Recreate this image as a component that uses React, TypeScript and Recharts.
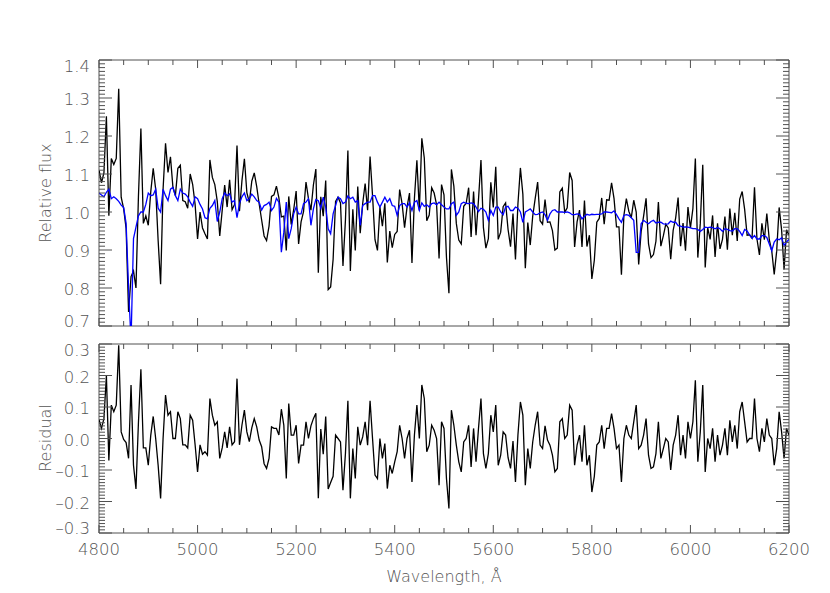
import React from 'react';
import { LineChart, Line, XAxis, YAxis, ReferenceArea } from 'recharts';

// Spectrum sampled on a regular wavelength grid (Å)
const WAVE_START = 4800;
const WAVE_STEP = 5;

// Model spectrum (blue), one value per grid point, 4800..6200 Å
const MODEL = [
  1.05, 1.045, 1.04, 1.052, 1.06, 1.035, 1.04, 1.035, 1.028, 1.018,
  1.012, 0.97, 0.80, 0.66, 0.93, 0.96, 0.99, 1.0, 1.0, 1.02,
  1.05, 1.043, 1.045, 1.06, 1.01, 1.0, 1.06, 1.043, 1.03, 1.06,
  1.065, 1.043, 1.03, 1.06, 1.05, 1.047, 1.04, 1.026, 1.015, 1.04,
  1.035, 1.02, 1.008, 0.985, 0.982, 1.01, 1.017, 1.03, 0.975, 1.0,
  1.035, 1.05, 1.043, 1.048, 1.026, 1.03, 0.985, 1.022, 1.04, 1.05,
  1.03, 1.035, 1.047, 1.04, 1.03, 1.026, 1.005, 1.017, 1.02, 1.026,
  1.004, 1.013, 1.036, 1.026, 0.894, 0.947, 1.026, 0.93, 0.956, 0.995,
  1.013, 0.995, 0.995, 1.022, 1.026, 1.035, 0.965, 1.008, 1.033, 1.03,
  1.01, 1.039, 1.013, 0.956, 0.943, 0.995, 1.017, 1.039, 1.035, 1.022,
  1.026, 1.042, 1.035, 1.039, 1.026, 1.03, 0.965, 1.017, 1.022, 1.026,
  1.026, 1.043, 1.043, 1.026, 1.013, 1.026, 1.039, 1.026, 1.035, 1.017,
  1.015, 0.991, 1.017, 1.022, 1.022, 1.013, 1.024, 1.004, 1.026, 1.03,
  1.004, 1.024, 1.015, 1.019, 1.013, 1.022, 1.024, 1.019, 1.026, 1.019,
  1.013, 1.008, 1.008, 1.022, 1.026, 0.991, 1.0, 1.022, 1.026, 1.023,
  1.022, 1.024, 1.022, 1.013, 1.001, 1.01, 1.007, 1.0, 0.978, 1.004,
  0.991, 1.013, 1.013, 1.0, 0.993, 1.013, 1.015, 1.004, 1.004, 1.013,
  1.01, 1.0, 0.973, 1.0, 1.004, 1.008, 1.0, 0.993, 0.994, 0.998,
  1.0, 0.993, 0.978, 0.995, 1.004, 1.006, 1.0, 1.0, 1.0, 0.999,
  1.0, 0.998, 0.993, 0.993, 0.995, 0.994, 0.982, 0.988, 0.994, 0.992,
  0.994, 0.993, 0.994, 0.994, 0.995, 1.0, 1.0, 0.999, 0.998, 1.003,
  0.993, 0.982, 0.973, 0.991, 0.993, 0.991, 0.985, 0.978, 0.894, 0.894,
  0.969, 0.978, 0.973, 0.969, 0.975, 0.978, 0.971, 0.973, 0.973, 0.969,
  0.968, 0.969, 0.976, 0.973, 0.973, 0.964, 0.963, 0.96, 0.961, 0.96,
  0.958, 0.956, 0.956, 0.954, 0.949, 0.954, 0.96, 0.959, 0.96, 0.959,
  0.956, 0.959, 0.956, 0.949, 0.956, 0.954, 0.951, 0.95, 0.956, 0.956,
  0.949, 0.938, 0.954, 0.95, 0.94, 0.931, 0.938, 0.929, 0.929, 0.938,
  0.938, 0.933, 0.916, 0.898, 0.921, 0.929, 0.927, 0.932, 0.912, 0.921,
  0.928,
];

const RESIDUAL = [
  0.06, 0.032, 0.063, 0.2, -0.07, 0.106, 0.085, 0.106, 0.296, 0.021,
  -0.003, -0.013, -0.063, 0.17, -0.085, -0.16, 0.05, 0.22, -0.03, -0.03,
  -0.085, 0.01, 0.07, 0.0, -0.085, -0.19, 0.0, 0.138, 0.074, 0.085,
  0.0, 0.0, 0.085, 0.063, -0.02, -0.02, -0.03, 0.074, 0.058, -0.02,
  -0.106, -0.02, -0.05, -0.042, -0.053, 0.127, 0.074, 0.042, 0.053, -0.063,
  -0.03, 0.021, -0.03, 0.037, -0.02, -0.01, 0.19, -0.02, 0.042, 0.09,
  0.021, -0.01, 0.034, 0.063, 0.037, -0.005, -0.026, -0.08, -0.095, -0.063,
  0.037, 0.032, 0.032, 0.011, 0.093, 0.042, -0.127, 0.111, 0.011, 0.011,
  0.042, -0.079, -0.021, -0.021, 0.053, 0.0, 0.04, 0.063, 0.08, -0.19,
  0.03, -0.05, 0.07, -0.16, -0.14, -0.12, 0.011, 0.0, -0.011, -0.164,
  -0.048, 0.12, -0.19, -0.032, -0.127, 0.037, -0.021, 0.005, 0.053, -0.021,
  0.12, 0.0, -0.116, -0.127, 0.0, -0.063, -0.016, -0.159, -0.085, -0.111,
  -0.074, -0.042, 0.042, 0.0, -0.063, 0.0, 0.026, -0.138, 0.011, 0.106,
  0.0, 0.17, 0.127, -0.042, -0.021, 0.042, 0.026, 0.0, -0.148, 0.053,
  0.032, -0.127, -0.222, 0.09, 0.042, -0.021, -0.074, -0.106, -0.011, 0.0,
  0.042, -0.09, 0.032, -0.074, 0.032, 0.127, -0.048, -0.095, -0.048, 0.074,
  0.021, 0.106, -0.085, -0.053, 0.021, 0.011, -0.061, -0.095, -0.008, -0.138,
  0.011, 0.116, 0.074, -0.148, -0.032, -0.095, -0.011, 0.042, 0.085, -0.021,
  -0.032, 0.04, -0.005, -0.021, -0.053, -0.106, -0.095, 0.053, 0.063, 0.0,
  0.011, 0.106, 0.09, -0.085, -0.021, 0.011, -0.074, 0.042, -0.085, -0.053,
  -0.17, -0.12, -0.021, -0.011, 0.042, -0.032, 0.032, 0.032, 0.079, 0.032,
  -0.032, -0.021, -0.138, 0.0, 0.042, 0.011, 0.0, 0.053, 0.106, -0.032,
  -0.021, 0.011, 0.063, -0.053, -0.095, -0.09, -0.048, 0.053, -0.063, -0.032,
  0.0, -0.011, -0.1, -0.021, 0.011, 0.074, -0.053, 0.011, -0.063, 0.053,
  0.0, 0.053, 0.185, -0.074, 0.021, 0.17, -0.106, 0.0, -0.032, 0.032,
  -0.074, 0.011, -0.053, -0.021, 0.032, -0.053, 0.058, -0.011, 0.042, -0.032,
  0.085, 0.116, 0.053, -0.011, 0.0, 0.0, 0.127, 0.0, -0.042, 0.032,
  -0.011, 0.063, 0.011, 0.0, -0.085, -0.032, 0.085, 0.021, -0.063, 0.032,
  0.011,
];

const X_MIN = 4800;
const X_MAX = 6200;
const X_MAJOR_STEP = 200;
const X_MINOR_STEP = 50;
const FLUX_DOMAIN: [number, number] = [0.7, 1.4];
const RESID_DOMAIN: [number, number] = [-0.3, 0.3];
const Y_MINOR = 0.01;

const AXIS_COLOR = '#505050';
const TEXT_COLOR = '#555555';
const FONT = '"DejaVu Sans", "Liberation Sans", sans-serif';
const FONT_SIZE = 16.5;

const data = MODEL.map((m, i) => ({
  wave: WAVE_START + i * WAVE_STEP,
  model: m,
  resid: RESIDUAL[i],
  flux: Math.round((m + RESIDUAL[i]) * 1000) / 1000,
}));

const xTicks: number[] = [];
for (let v = X_MIN; v <= X_MAX; v += X_MINOR_STEP) xTicks.push(v);

const yTicks = (dom: [number, number]) => {
  const out: number[] = [];
  const n = Math.round((dom[1] - dom[0]) / Y_MINOR);
  for (let i = 0; i <= n; i++) out.push(Math.round((dom[0] + i * Y_MINOR) * 100) / 100);
  return out;
};

const PLOT_LEFT = 99;
const PLOT_RIGHT = 789;
const PLOT_W = PLOT_RIGHT - PLOT_LEFT;

const makeXTick = (plotH: number, showLabel: boolean) => (props: any) => {
  const { x, y, payload } = props;
  const v = payload.value;
  const major = Math.abs(v % X_MAJOR_STEP) < 1e-6;
  const len = major ? 8 : 5;
  return (
    <g>
      <line x1={x} x2={x} y1={y} y2={y - len} stroke={AXIS_COLOR} strokeWidth={1} />
      <line x1={x} x2={x} y1={y - plotH} y2={y - plotH + len} stroke={AXIS_COLOR} strokeWidth={1} />
      {showLabel && major && (
        <text x={x} y={y + 22} textAnchor="middle" fill={TEXT_COLOR}
          style={{ fontFamily: FONT, fontSize: FONT_SIZE, fontWeight: 300 }}>
          {v}
        </text>
      )}
    </g>
  );
};

const fmt = (v: number) => (v < -1e-9 ? '\u2013' + (-v).toFixed(1) : Math.abs(v).toFixed(1));

const makeYTick = (dom: [number, number]) => (props: any) => {
  const { x, y, payload } = props;
  const v = payload.value;
  const major = Math.round(v * 100) % 10 === 0;
  const len = major ? 13 : 6;
  let shift = 1.5;
  if (Math.abs(v - dom[1]) < 1e-6) shift = 6;
  if (Math.abs(v - dom[0]) < 1e-6) shift = -5;
  return (
    <g>
      <line x1={x} x2={x + len} y1={y} y2={y} stroke={AXIS_COLOR} strokeWidth={1} />
      <line x1={x + PLOT_W} x2={x + PLOT_W - len} y1={y} y2={y} stroke={AXIS_COLOR} strokeWidth={1} />
      {major && (
        <text x={x - 9} y={y + shift} dy="0.36em" textAnchor="end" fill={TEXT_COLOR}
          style={{ fontFamily: FONT, fontSize: FONT_SIZE, fontWeight: 300 }}>
          {fmt(v)}
        </text>
      )}
    </g>
  );
};

const TOP_H = 345;
const TOP_XAXIS_H = 19;
const TOP_MARGIN = { top: 60, right: 830 - PLOT_RIGHT, bottom: 0, left: PLOT_LEFT - 60 };
const TOP_PLOT_H = TOP_H - TOP_MARGIN.top - TOP_XAXIS_H;

const BOT_OFFSET = 330;
const BOT_H = 263;
const BOT_XAXIS_H = 60;
const BOT_MARGIN = { top: 14, right: 830 - PLOT_RIGHT, bottom: 0, left: PLOT_LEFT - 60 };
const BOT_PLOT_H = BOT_H - BOT_MARGIN.top - BOT_XAXIS_H;

export default function App() {
  const textStyle = { fontFamily: FONT, fontSize: 16, fontWeight: 300 } as React.CSSProperties;
  return (
    <div style={{ position: 'absolute', left: 0, top: 0, width: 830, height: 593, background: '#fff' }}>
      <div style={{ position: 'absolute', left: 0, top: 0 }}>
        <LineChart width={830} height={TOP_H} data={data} margin={TOP_MARGIN}>
          <XAxis dataKey="wave" type="number" domain={[X_MIN, X_MAX]} ticks={xTicks} interval={0}
            height={TOP_XAXIS_H} tickSize={0} tickMargin={0} axisLine={false} tickLine={false}
            tick={makeXTick(TOP_PLOT_H, false)} allowDataOverflow />
          <YAxis type="number" domain={FLUX_DOMAIN} ticks={yTicks(FLUX_DOMAIN)} interval={0}
            width={60} tickSize={0} tickMargin={0} axisLine={false} tickLine={false}
            tick={makeYTick(FLUX_DOMAIN)} allowDataOverflow />
          <ReferenceArea x1={X_MIN} x2={X_MAX} y1={FLUX_DOMAIN[0]} y2={FLUX_DOMAIN[1]}
            fill="none" fillOpacity={0} stroke={AXIS_COLOR} strokeWidth={1} />
          <Line dataKey="flux" stroke="#000000" strokeWidth={1.3} dot={false} isAnimationActive={false} />
          <Line dataKey="model" stroke="#0000ff" strokeWidth={1.3} dot={false} isAnimationActive={false} />
        </LineChart>
      </div>
      <div style={{ position: 'absolute', left: 0, top: BOT_OFFSET }}>
        <LineChart width={830} height={BOT_H} data={data} margin={BOT_MARGIN}>
          <XAxis dataKey="wave" type="number" domain={[X_MIN, X_MAX]} ticks={xTicks} interval={0}
            height={BOT_XAXIS_H} tickSize={0} tickMargin={0} axisLine={false} tickLine={false}
            tick={makeXTick(BOT_PLOT_H, true)} allowDataOverflow />
          <YAxis type="number" domain={RESID_DOMAIN} ticks={yTicks(RESID_DOMAIN)} interval={0}
            width={60} tickSize={0} tickMargin={0} axisLine={false} tickLine={false}
            tick={makeYTick(RESID_DOMAIN)} allowDataOverflow />
          <ReferenceArea x1={X_MIN} x2={X_MAX} y1={RESID_DOMAIN[0]} y2={RESID_DOMAIN[1]}
            fill="none" fillOpacity={0} stroke={AXIS_COLOR} strokeWidth={1} />
          <Line dataKey="resid" stroke="#000000" strokeWidth={1.3} dot={false} isAnimationActive={false} />
        </LineChart>
      </div>
      <svg width={830} height={593} style={{ position: 'absolute', left: 0, top: 0, pointerEvents: 'none' }}>
        <text x={46} y={193} transform="rotate(-90 46 193)" textAnchor="middle" dominantBaseline="middle"
          fill={TEXT_COLOR} style={textStyle}>Relative flux</text>
        <text x={46} y={438} transform="rotate(-90 46 438)" textAnchor="middle" dominantBaseline="middle"
          fill={TEXT_COLOR} style={textStyle}>Residual</text>
        <text x={444} y={577} textAnchor="middle" dominantBaseline="middle"
          fill={TEXT_COLOR} style={textStyle}>Wavelength, Å</text>
      </svg>
    </div>
  );
}
